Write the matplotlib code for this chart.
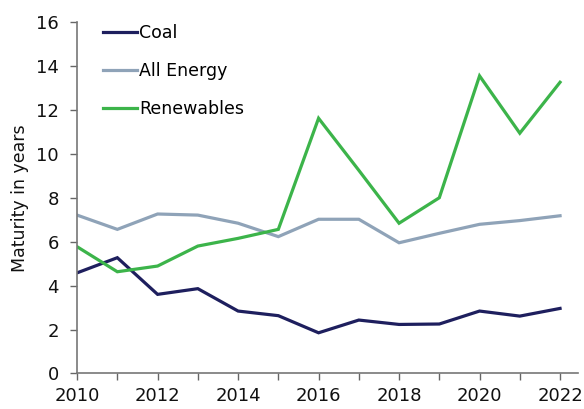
import numpy as np
import matplotlib.pyplot as plt

years = list(range(2010, 2023))
coal = [4.58, 5.27, 3.60, 3.86, 2.84, 2.63, 1.85, 2.43, 2.23, 2.25, 2.84, 2.61, 2.96]
all_energy = [7.21, 6.56, 7.26, 7.21, 6.84, 6.23, 7.02, 7.02, 5.95, 6.38, 6.79, 6.96, 7.18]
renewables = [5.77, 4.63, 4.89, 5.80, 6.15, 6.56, 11.62, 9.25, 6.84, 8.0, 13.55, 10.94, 13.26]

names = ['Coal', 'All Energy', 'Renewables']
colours = ['#1e1f5e', '#8fa3b8', '#3cb44a']

plt.rcParams['font.family'] = 'DejaVu Sans'
fig = plt.figure(figsize=(5.84, 4.09), dpi=100)
ax = fig.add_axes([0.132, 0.087, 0.858, 0.859])

for series, name, c in zip([coal, all_energy, renewables], names, colours):
    ax.plot(years, series, color=c, lw=2.3, label=name, solid_joinstyle='miter')

ax.set_xlim(2010, 2022.45)
ax.set_ylim(0, 16)
ax.set_xticks(range(2010, 2023), minor=True)
ax.set_xticks(range(2010, 2023, 2))
ax.set_yticks(range(0, 17, 2))
ax.tick_params(axis='both', which='both', colors='#666666', labelcolor='#111111',
               labelsize=13, length=5, width=1)
ax.tick_params(axis='y', pad=8)
ax.tick_params(axis='x', pad=5)
for s in ['top', 'right']:
    ax.spines[s].set_visible(False)
for s in ['left', 'bottom']:
    ax.spines[s].set_color('#777777')
    ax.spines[s].set_linewidth(1.2)
ax.set_ylabel('Maturity in years', fontsize=12.5, color='#111111', labelpad=5)

ax.legend(loc='upper left', bbox_to_anchor=(0.02, 1.038), frameon=False,
          fontsize=12.5, handlelength=2.0, handletextpad=0.1, labelspacing=1.15)

fig.savefig('out.png', dpi=100)
